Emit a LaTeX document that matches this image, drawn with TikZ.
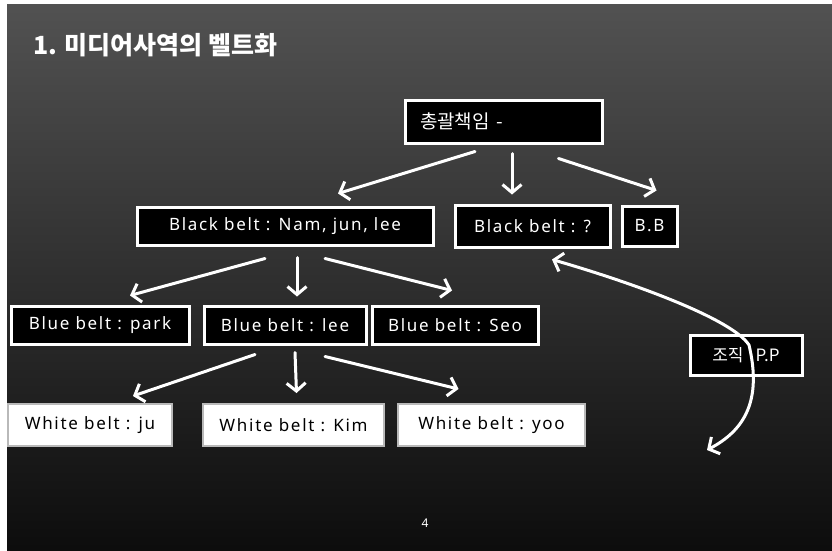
\documentclass[tikz,border=0pt]{standalone}
\usepackage{fontspec}
\newfontfamily\kr{Noto Sans CJK KR}
\newfontfamily\lab[LetterSpace=10]{Noto Sans}
\usetikzlibrary{arrows.meta}
\tikzset{
  bk/.style={draw=white, line width=3pt, fill=black, text=white, inner sep=0pt,
    font=\lab\fontsize{17}{20}\selectfont},
  wt/.style={draw=gray!55, line width=2pt, fill=white, text=black, inner sep=0pt,
    font=\lab\fontsize{17}{20}\selectfont},
  arr/.style={draw=white, line width=3pt, line cap=round,
    -{Straight Barb[length=8pt,width=19pt]}},
  arr2/.style={draw=white, line width=3pt, line cap=round,
    {Straight Barb[length=8pt,width=19pt]}-{Straight Barb[length=8pt,width=19pt]}}
}
\begin{document}
\begin{tikzpicture}[x=1pt,y=-1pt]
\useasboundingbox (0,0) rectangle (832,550);
\fill[white] (0,0) rectangle (832,550);
\shade[top color=black!68, bottom color=black!95] (7,4) rectangle (832,550);

\node[anchor=west, inner sep=0pt, text=white, font=\kr\bfseries\fontsize{25}{29}\selectfont] (title) at (33,45) {1. 미디어사역의 벨트화};

% top
\node[bk, minimum width=197pt, minimum height=43pt, text width=167pt, inner xsep=15pt, align=left,
  font=\kr\fontsize{19}{22}\selectfont] (top) at (503.5,121.5) {총괄책임 -};

% black belts
\node[bk, minimum width=296pt, minimum height=38pt] (bbA) at (285,226) {Black belt : Nam, jun, lee};
\node[bk, minimum width=155pt, minimum height=42pt] (bbB) at (532.5,226) {Black belt : ?};
\node[bk, minimum width=55pt, minimum height=40pt] (bbC) at (649.5,226) {B.B};

% blue belts
\node[bk, minimum width=178pt, minimum height=38pt] (blA) at (100,325) {Blue belt : park};
\node[bk, minimum width=162pt, minimum height=38pt] (blB) at (285,325) {Blue belt : lee};
\node[bk, minimum width=166pt, minimum height=38pt] (blC) at (455,325) {Blue belt : Seo};

% white belts
\node[wt, minimum width=164pt, minimum height=42pt] (wA) at (90,425) {White belt : ju};
\node[wt, minimum width=181pt, minimum height=42pt] (wB) at (293.5,425) {White belt : Kim};
\node[wt, minimum width=187pt, minimum height=42pt] (wC) at (491.5,425) {White belt : yoo};

% organisation
\node[bk, minimum width=112pt, minimum height=40pt, font=\kr\fontsize{17}{20}\selectfont] (org) at (746,355) {조직\hspace{0.7em}P.P};

% page number
\node[text=white, font=\lab\fontsize{12}{14}\selectfont, inner sep=0pt] (pg) at (425,523) {4};

% arrows from top
\draw[arr] ([xshift=-28.5pt,yshift=-7pt]top.south) -- ([xshift=53pt,yshift=12pt]bbA.north);
\draw[arr] ([xshift=8.5pt,yshift=-9pt]top.south) -- ([xshift=-20.5pt,yshift=9pt]bbB.north);
\draw[arr] ([xshift=55pt,yshift=-14pt]top.south) -- ([xshift=7pt,yshift=14pt]bbC.north);

% arrows from black belt A
\draw[arr] ([xshift=-20pt,yshift=-12pt]bbA.south) -- ([xshift=30pt,yshift=9pt]blA.north);
\draw[arr] ([xshift=12pt,yshift=-11pt]bbA.south) -- ([xshift=12pt,yshift=8pt]blB.north);
\draw[arr] ([xshift=40pt,yshift=-12pt]bbA.south) -- ([xshift=-3pt,yshift=14pt]blC.north);

% arrows from blue belt B
\draw[arr] ([xshift=-30pt,yshift=-9pt]blB.south) -- ([xshift=43pt,yshift=7pt]wA.north);
\draw[arr] ([xshift=10pt,yshift=-7pt]blB.south) -- ([xshift=3pt,yshift=10pt]wB.north);
\draw[arr] ([xshift=40pt,yshift=-11pt]blB.south) -- ([xshift=-33pt,yshift=14pt]wC.north);

% curved double arrow through organisation box
\coordinate (cend) at (707,450);
\draw[arr2] ([xshift=19.5pt,yshift=-11pt]bbB.south) .. controls (640,285) and (733,320) .. ([xshift=3pt,yshift=10pt]org.center)
  .. controls (762,400) and (745,430) .. (cend);
\end{tikzpicture}
\end{document}
